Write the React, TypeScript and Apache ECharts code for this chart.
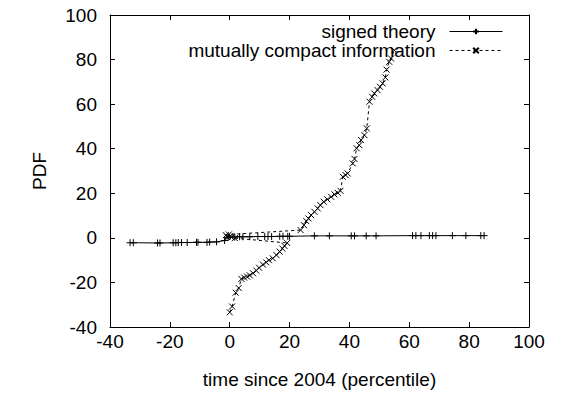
import React, { useEffect, useRef } from "react";
import * as echarts from "echarts";

const xTicks = { min: -40, max: 100, interval: 20 };
const yTicks = { min: -40, max: 100, interval: 20 };

const seriesNames = ["signed theory", "mutually compact information"];

const signedTheory: [number, number][] = [
  [-33.3, -2.2], [-32.2, -2.2], [-24.1, -2.3], [-23.3, -2.3], [-18.9, -2.2],
  [-18, -2.2], [-17.2, -2.1], [-16.1, -2.1], [-14.2, -2.1], [-11.1, -2.0],
  [-10.6, -2.0], [-7.6, -2.0], [-6.7, -1.9], [-4.4, -1.8], [-1.7, -1.2],
  [-0.5, 0.3], [1.7, 0.4], [3.3, 0.5], [4.4, 0.5], [6.7, 0.5], [9.4, 0.6],
  [11.7, 0.6], [12.8, 0.6], [14, 0.6], [16.7, 0.7], [17.8, 0.7], [19.4, 0.7],
  [20, 0.7], [28.3, 0.9], [33.3, 0.9], [40.6, 0.9], [41.7, 0.9], [45.6, 0.9],
  [48.9, 0.9], [61.1, 1.0], [62.2, 1.0], [63.9, 1.0], [66.7, 1.0], [67.8, 1.0],
  [68.9, 1.0], [74.4, 1.0], [78.9, 1.0], [83.9, 1.0], [85, 1.0],
];

const mutualInfo: [number, number][] = [
  [0, -33.4], [0.8, -30.8], [2.0, -24.6], [3.0, -22.5], [3.9, -18.4],
  [4.8, -17.8], [5.8, -17.4], [6.7, -16.8], [7.8, -15.9], [8.9, -14.7],
  [9.8, -13.4], [11.1, -12], [12.2, -11], [13.1, -10], [14.4, -9.2],
  [15.6, -7.7], [16.7, -6.2], [17.6, -4.8], [18.3, -3.6], [19.2, -2.3],
  [1.7, -0.1], [0.6, 0.2], [-0.8, 0.5], [0.2, 0.8], [-1.3, 1.2], [-0.3, 1.5],
  [23.7, 3.5], [24.8, 5.7], [25.6, 7.5], [26.3, 8.7], [27.2, 10.2],
  [28.3, 11.7], [29.4, 13.2], [30.3, 14.7], [31.4, 16.2], [32.6, 17.3],
  [33.9, 18.4], [35, 19.5], [36.1, 20.2], [37, 21.1], [37.8, 27.4],
  [38.7, 28.2], [39.4, 28.9], [41.1, 33.4], [41.7, 35.4], [42.4, 40.2],
  [43.3, 41.6], [43.9, 43.9], [45, 46.1], [45.8, 49.1], [46.7, 61.1],
  [47.6, 63.3], [48.3, 64.8], [49.4, 66.3], [50.2, 67.8], [51.1, 69.3],
  [52, 72], [52.4, 75.5], [53.3, 79], [53.9, 80.5], [55, 84.2],
];

const FONT = "'Liberation Sans', Arial, sans-serif";
const FS = 19;
const PLUS = "path://M0,4L8,4M4,0L4,8";
const CROSS = "path://M0,0L8,8M8,0L0,8";

export default function App() {
  const ref = useRef<HTMLDivElement>(null);
  useEffect(() => {
    if (!ref.current) return;
    const chart = echarts.init(ref.current, null, { renderer: "svg" });
    const axisCommon = {
      type: "value" as const,
      splitLine: { show: false },
      axisLine: { show: true, onZero: false, lineStyle: { color: "#000", width: 1 } },
      axisTick: { show: true, inside: true, length: 5, lineStyle: { color: "#000" } },
    };
    chart.setOption({
      animation: false,
      backgroundColor: "#fff",
      textStyle: { fontFamily: FONT },
      grid: { left: 110, right: 36, top: 15, bottom: 67, containLabel: false },
      legend: {
        orient: "vertical",
        right: 62,
        top: 22,
        padding: 0,
        align: "right",
        itemWidth: 53,
        itemHeight: 7,
        itemGap: 0,
        lineStyle: { width: 1 },
        textStyle: { fontFamily: FONT, fontSize: FS, lineHeight: 19, color: "#000", padding: [0, 9, 0, 0] },
        data: seriesNames,
      },
      xAxis: [
        {
          ...axisCommon,
          ...xTicks,
          position: "bottom",
          name: "time since 2004 (percentile)",
          nameLocation: "middle",
          nameGap: 43,
          nameTextStyle: { fontFamily: FONT, fontSize: FS, color: "#000" },
          axisLabel: { fontFamily: FONT, fontSize: FS, color: "#000", margin: 5 },
        },
        {
          ...axisCommon,
          ...xTicks,
          position: "top",
          axisLabel: { show: false },
        },
      ],
      yAxis: [
        {
          ...axisCommon,
          ...yTicks,
          position: "left",
          name: "PDF",
          nameLocation: "middle",
          nameGap: 61,
          nameRotate: 90,
          nameTextStyle: { fontFamily: FONT, fontSize: FS, color: "#000" },
          axisLabel: { fontFamily: FONT, fontSize: FS, color: "#000", margin: 13 },
        },
        {
          ...axisCommon,
          ...yTicks,
          position: "right",
          axisLabel: { show: false },
        },
      ],
      series: [
        {
          name: seriesNames[0],
          type: "line",
          xAxisIndex: 0,
          yAxisIndex: 0,
          data: signedTheory,
          symbol: PLUS,
          symbolSize: 7,
          showAllSymbol: true,
          lineStyle: { color: "#000", width: 1, type: "solid" },
          itemStyle: { color: "none", borderColor: "#000", borderWidth: 1 },
        },
        {
          name: seriesNames[1],
          type: "line",
          xAxisIndex: 0,
          yAxisIndex: 0,
          data: mutualInfo,
          symbol: CROSS,
          symbolSize: 6,
          showAllSymbol: true,
          lineStyle: { color: "#000", width: 1, type: [3, 3] },
          itemStyle: { color: "none", borderColor: "#000", borderWidth: 1 },
        },
      ],
    });
    return () => chart.dispose();
  }, []);
  return (
    <div
      ref={ref}
      style={{ position: "fixed", left: 0, top: 0, width: 565, height: 394 }}
    />
  );
}
